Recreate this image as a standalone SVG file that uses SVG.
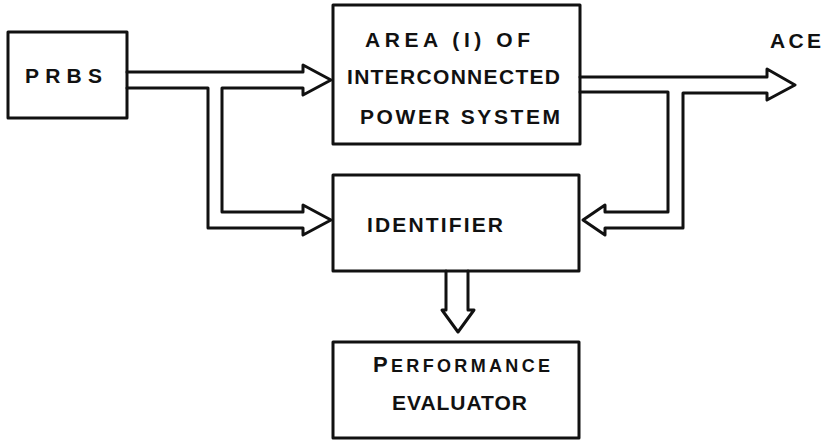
<svg xmlns="http://www.w3.org/2000/svg" width="827" height="440" viewBox="0 0 827 440">
<style>
.box{fill:none;stroke:#111;stroke-width:3;stroke-linejoin:round}
.con{fill:none;stroke:#111;stroke-width:3;stroke-linejoin:round;stroke-linecap:round}
.t{font-family:"Liberation Sans",Arial,sans-serif;font-weight:bold;fill:#111;font-size:21px}
</style>
<rect width="827" height="440" fill="#fff"/>
<g id="prbs">
<rect class="box" x="8" y="32" width="119" height="86"/>
<text class="t" x="25" y="83" textLength="77" lengthAdjust="spacing">PRBS</text>
</g>
<g id="area">
<rect class="box" x="333" y="5" width="247" height="139"/>
<text class="t" x="365" y="47" textLength="165" lengthAdjust="spacing">AREA (I) OF</text>
<text class="t" x="347" y="84" textLength="213" lengthAdjust="spacing">INTERCONNECTED</text>
<text class="t" x="360" y="124" textLength="200" lengthAdjust="spacing">POWER SYSTEM</text>
</g>
<g id="ace">
<text class="t" x="770" y="48" textLength="51" lengthAdjust="spacing">ACE</text>
</g>
<g id="identifier">
<rect class="box" x="333" y="175" width="246" height="96"/>
<text class="t" x="367" y="232" textLength="136" lengthAdjust="spacing">IDENTIFIER</text>
</g>
<g id="performance">
<rect class="box" x="333" y="342" width="246" height="96"/>
<text class="t" x="373" y="372" textLength="177" lengthAdjust="spacing"><tspan font-size="22">P</tspan><tspan font-size="18">ERFORMANCE</tspan></text>
<text class="t" x="392" y="410" textLength="135" lengthAdjust="spacing">EVALUATOR</text>
</g>
<g id="connectors">
<path class="con" d="M127,72 H303 V65 L331,80 L303,95 V88 H222 V212 H303 V205 L331,220 L303,235 V228 H208 V88 H127"/>
<path class="con" d="M580,77 H767 V69 L795,85 L767,100 V93 H683 V228 H605 V235 L583,220 L605,205 V212 H668 V92 H580"/>
<path class="con" d="M446,271 V310 H442 L458,332 L474,310 H468 V271"/>
</g>
</svg>
